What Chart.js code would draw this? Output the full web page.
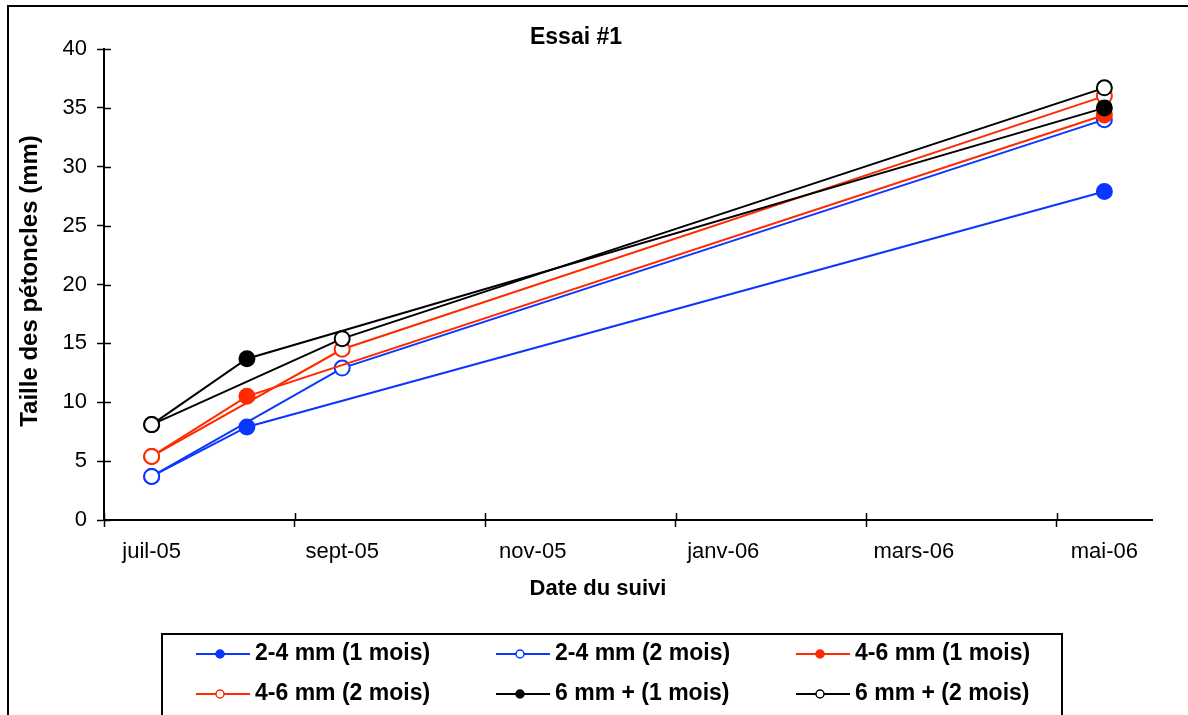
<!DOCTYPE html>
<html>
<head>
<meta charset="utf-8">
<script src="https://cdn.jsdelivr.net/npm/chart.js@4.4.0/dist/chart.umd.min.js"></script>
<style>
    html, body { margin: 0; padding: 0; background: #fff; }
</style>
</head>
<body>
<canvas id="growthChart" width="1188" height="715"></canvas>
<script>
// x = month index, 0 = juil-05 ... 10 = mai-06
const monthLabels = ['juil-05', 'sept-05', 'nov-05', 'janv-06', 'mars-06', 'mai-06'];
const oneMonthX = [0, 1, 10];
const twoMonthX = [0, 2, 10];

const seriesNames = ['2-4 mm (1 mois)', '2-4 mm (2 mois)', '4-6 mm (1 mois)',
                     '4-6 mm (2 mois)', '6 mm + (1 mois)', '6 mm + (2 mois)'];
const small1 = [3.7, 7.9, 27.9];
const small2 = [3.7, 12.9, 34.0];
const mid1 = [5.4, 10.5, 34.4];
const mid2 = [5.4, 14.5, 36.0];
const big1 = [8.1, 13.7, 35.0];
const big2 = [8.1, 15.4, 36.7];

const palette = { blue: '#0a36ff', red: '#ff2a00', black: '#000000' };

Chart.defaults.font.family = "'Liberation Sans', Arial, sans-serif";
Chart.defaults.color = '#000';

function toPoints(xs, ys) {
    return xs.map((x, i) => ({ x: x, y: ys[i] }));
}

function makeSeries(i, xs, ys, color, filled) {
    return {
        label: seriesNames[i],
        data: toPoints(xs, ys),
        borderColor: color,
        backgroundColor: color,
        borderWidth: 2,
        pointRadius: 7.5,
        pointBorderWidth: 2,
        pointBorderColor: color,
        pointBackgroundColor: filled ? color : '#ffffff',
        tension: 0,
        order: 5 - i // later series sit on top, like the original
    };
}

// label ticks on labelled months, tick marks on the left edge of those months
const labelValues = monthLabels.map((_, i) => 2 * i);
const tickValues = [];
labelValues.forEach(v => { tickValues.push(v - 0.5, v); });

// frame, titles, inner half of the tick crosses, custom legend
const decorations = {
    id: 'decorations',
    afterDraw(chart) {
        const ctx = chart.ctx;
        const { x, y } = chart.scales;
        ctx.save();
        ctx.strokeStyle = '#000';

        ctx.lineWidth = 2;
        ctx.strokeRect(8, 6, 1400, 1000);

        ctx.lineWidth = 1.5;
        ctx.beginPath();
        y.ticks.forEach(t => {
            const py = Math.round(y.getPixelForValue(t.value)) + 0.5;
            ctx.moveTo(x.left, py);
            ctx.lineTo(x.left + 7, py);
        });
        x.ticks.forEach(t => {
            if (Number.isInteger(t.value)) return;
            const px = Math.round(x.getPixelForValue(t.value)) + 0.5;
            ctx.moveTo(px, y.bottom);
            ctx.lineTo(px, y.bottom - 7);
        });
        ctx.stroke();

        ctx.fillStyle = '#000';
        ctx.textAlign = 'center';
        ctx.textBaseline = 'middle';
        ctx.font = "bold 23px 'Liberation Sans', Arial, sans-serif";
        ctx.fillText('Essai #1', 576, 38);
        ctx.font = "bold 22px 'Liberation Sans', Arial, sans-serif";
        ctx.fillText('Date du suivi', 598, 589);
        ctx.save();
        ctx.translate(30, 281);
        ctx.rotate(-Math.PI / 2);
        ctx.font = "bold 24px 'Liberation Sans', Arial, sans-serif";
        ctx.fillText('Taille des pétoncles (mm)', 0, 0);
        ctx.restore();

        // legend
        ctx.lineWidth = 2;
        ctx.strokeRect(162, 634, 900, 200);
        ctx.textAlign = 'left';
        ctx.font = "bold 23px 'Liberation Sans', Arial, sans-serif";
        chart.data.datasets.forEach((ds, i) => {
            const col = i % 3, row = Math.floor(i / 3);
            const lx = 196 + col * 300;
            const ly = 654 + row * 40;
            ctx.strokeStyle = ds.borderColor;
            ctx.lineWidth = 2;
            ctx.beginPath();
            ctx.moveTo(lx, ly);
            ctx.lineTo(lx + 54, ly);
            ctx.stroke();
            ctx.beginPath();
            ctx.arc(lx + 24, ly, 4, 0, Math.PI * 2);
            ctx.fillStyle = ds.pointBackgroundColor;
            ctx.fill();
            ctx.lineWidth = 1.5;
            ctx.stroke();
            ctx.fillStyle = '#000';
            ctx.fillText(ds.label, lx + 59, ly);
        });
        ctx.restore();
    }
};

new Chart(document.getElementById('growthChart'), {
    type: 'line',
    data: {
        datasets: [
            makeSeries(0, oneMonthX, small1, palette.blue, true),
            makeSeries(1, twoMonthX, small2, palette.blue, false),
            makeSeries(2, oneMonthX, mid1, palette.red, true),
            makeSeries(3, twoMonthX, mid2, palette.red, false),
            makeSeries(4, oneMonthX, big1, palette.black, true),
            makeSeries(5, twoMonthX, big2, palette.black, false)
        ]
    },
    options: {
        responsive: false,
        animation: false,
        devicePixelRatio: 1,
        layout: { padding: { left: 12, top: 49, right: 36, bottom: 135 } },
        plugins: {
            legend: { display: false },
            tooltip: { enabled: false }
        },
        scales: {
            x: {
                type: 'linear',
                min: -0.5,
                max: 10.5,
                afterBuildTicks: scale => { scale.ticks = tickValues.map(v => ({ value: v })); },
                afterFit: scale => { scale.height = 60; },
                border: { color: '#000', width: 2 },
                grid: {
                    drawOnChartArea: false,
                    tickLength: 7,
                    tickWidth: 1.5,
                    tickColor: c => (c.tick && Number.isInteger(c.tick.value)) ? 'rgba(0,0,0,0)' : '#000'
                },
                ticks: {
                    autoSkip: false,
                    maxRotation: 0,
                    padding: 12,
                    font: { size: 22 },
                    callback: v => Number.isInteger(v) ? monthLabels[v / 2] : ''
                }
            },
            y: {
                min: 0,
                max: 40,
                afterFit: scale => { scale.width = 92; },
                border: { color: '#000', width: 2 },
                grid: { drawOnChartArea: false, tickLength: 7, tickWidth: 1.5, tickColor: '#000' },
                ticks: { stepSize: 5, padding: 10, font: { size: 22 } }
            }
        }
    },
    plugins: [decorations]
});
</script>
</body>
</html>
